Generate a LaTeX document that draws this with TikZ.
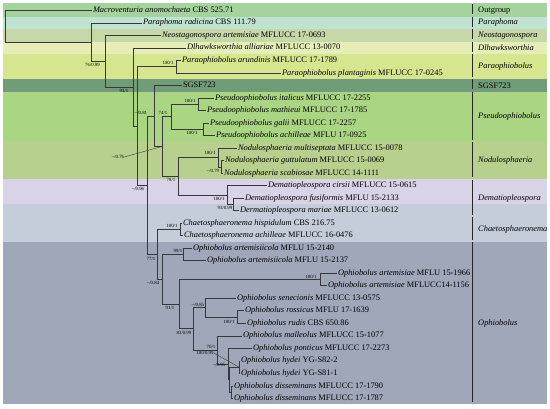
\documentclass[tikz,border=0pt]{standalone}
\usepackage{fontspec}
\setmainfont{Liberation Serif}
\usetikzlibrary{calc}
\definecolor{cOut}{RGB}{165,211,158}
\definecolor{cParaph}{RGB}{192,226,208}
\definecolor{cNeo}{RGB}{198,215,168}
\definecolor{cDlh}{RGB}{228,238,182}
\definecolor{cParaO}{RGB}{214,230,142}
\definecolor{cSGSF}{RGB}{112,156,122}
\definecolor{cPseudo}{RGB}{170,214,132}
\definecolor{cNodu}{RGB}{184,208,142}
\definecolor{cDemat}{RGB}{216,211,230}
\definecolor{cChaeto}{RGB}{197,205,219}
\definecolor{cOphio}{RGB}{159,167,185}
\definecolor{treec}{RGB}{55,55,60}
\newcommand\clade[4]{\path let \p1=(#3), \p2=(#4) in (#2pt,{0.5*(\y1+\y2)}) coordinate (#1);}
\newcommand\edges[3]{\draw[br] (#1) |- (#2); \draw[br] (#1) |- (#3);}
\tikzset{
  br/.style={draw=treec, line width=0.6pt},
  tx/.style={anchor=west, inner sep=0.8pt, font=\fontsize{8.4}{9}\selectfont, text height=5.6pt, text depth=1.4pt},
  sup/.style={inner sep=0pt, font=\fontsize{4.8}{5}\selectfont},
  gl/.style={anchor=west, inner sep=0pt, font=\fontsize{8.4}{9}\selectfont},
  bar/.style={draw=black!85, line width=0.9pt},
  ptr/.style={draw=treec, line width=0.4pt},
}
\begin{document}
\begin{tikzpicture}[x=1pt,y=-1pt]
\useasboundingbox (0,0) rectangle (550,408);
% background bands
\fill[cOut] (3,3) rectangle (547,16.56);
\fill[cParaph] (3,16.56) rectangle (547,29.08);
\fill[cNeo] (3,29.08) rectangle (547,41.6);
\fill[cDlh] (3,41.6) rectangle (547,54.12);
\fill[cParaO] (3,54.12) rectangle (547,79.16);
\fill[cSGSF] (3,79.16) rectangle (547,91.68);
\fill[cPseudo] (3,91.68) rectangle (547,141.76);
\fill[cNodu] (3,141.76) rectangle (547,179.32);
\fill[cDemat] (3,179.32) rectangle (547,204.36);
\fill[cChaeto] (3,204.36) rectangle (547,241.92);
\fill[cOphio] (3,241.92) rectangle (547,404);
% taxa
\node[tx] (t1) at (92,10.30) {\textit{Macroventuria anomochaeta} CBS 525.71};
\node[tx] (t2) at (142,22.82) {\textit{Paraphoma radicina} CBS 111.79};
\node[tx] (t3) at (161,35.34) {\textit{Neostagonospora artemisiae} MFLUCC 17-0693};
\node[tx] (t4) at (186,47.86) {\textit{Dlhawksworthia alliariae} MFLUCC 13-0070};
\node[tx] (t5) at (181,60.38) {\textit{Paraophiobolus arundinis} MFLUCC 17-1789};
\node[tx] (t6) at (281,72.90) {\textit{Paraophiobolus plantaginis} MFLUCC 17-0245};
\node[tx] (t7) at (182,85.42) {SGSF723};
\node[tx] (t8) at (214,97.94) {\textit{Pseudoophiobolus italicus} MFLUCC 17-2255};
\node[tx] (t9) at (206,110.46) {\textit{Pseudoophiobolus mathieui} MFLUCC 17-1785};
\node[tx] (t10) at (209,122.98) {\textit{Pseudoophiobolus galii} MFLUCC 17-2257};
\node[tx] (t11) at (215,135.50) {\textit{Pseudoophiobolus achilleae} MFLU 17-0925};
\node[tx] (t12) at (237,148.02) {\textit{Nodulosphaeria multiseptata} MFLUCC 15-0078};
\node[tx] (t13) at (224,160.54) {\textit{Nodulosphaeria guttulatum} MFLUCC 15-0069};
\node[tx] (t14) at (223,173.06) {\textit{Nodulosphaeria scabiosae} MFLUCC 14-1111};
\node[tx] (t15) at (267,185.58) {\textit{Dematiopleospora cirsii} MFLUCC 15-0615};
\node[tx] (t16) at (244,198.10) {\textit{Dematiopleospora fusiformis} MFLU 15-2133};
\node[tx] (t17) at (239,210.62) {\textit{Dermatiopleospora mariae} MFLUCC 13-0612};
\node[tx] (t18) at (182,223.14) {\textit{Chaetosphaeronema hispidulum} CBS 216.75};
\node[tx] (t19) at (183,235.66) {\textit{Chaetosphaeronema achilleae} MFLUCC 16-0476};
\node[tx] (t20) at (192,248.18) {\textit{Ophiobolus artemisiicola} MFLU 15-2140};
\node[tx] (t21) at (206,260.70) {\textit{Ophiobolus artemisiicola} MFLU 15-2137};
\node[tx] (t22) at (337,273.22) {\textit{Ophiobolus artemisiae} MFLU 15-1966};
\node[tx] (t23) at (327,285.74) {\textit{Ophiobolus artemisiae} MFLUCC14-1156};
\node[tx] (t24) at (236,298.26) {\textit{Ophiobolus senecionis} MFLUCC 13-0575};
\node[tx] (t25) at (244,310.78) {\textit{Ophiobolus rossicus} MFLU 17-1639};
\node[tx] (t26) at (246,323.30) {\textit{Ophiobolus rudis} CBS 650.86};
\node[tx] (t27) at (242,335.82) {\textit{Ophiobolus malleolus} MFLUCC 15-1077};
\node[tx] (t28) at (252,348.34) {\textit{Ophiobolus ponticus} MFLUCC 17-2273};
\node[tx] (t29) at (240,360.86) {\textit{Ophiobolus hydei} YG-S82-2};
\node[tx] (t30) at (240,373.38) {\textit{Ophiobolus hydei} YG-S81-1};
\node[tx] (t31) at (233,385.90) {\textit{Ophiobolus disseminans} MFLUCC 17-1790};
\node[tx] (t32) at (233,398.42) {\textit{Ophiobolus disseminans} MFLUCC 17-1787};
% internal nodes (tips upward)
\clade{PAR}{176}{t5}{t6}
\clade{P1}{198}{t8}{t9}
\clade{P2}{203}{t10}{t11}
\clade{P}{171}{P1}{P2}
\clade{N2}{221}{t13}{t14}
\clade{N}{218}{t12}{N2}
\clade{M2}{233}{t16}{t17}
\clade{M}{227}{t15}{M2}
\clade{H}{178}{N}{M}
\clade{G}{162}{P}{H}
\clade{E}{154}{t7}{G}
\clade{CH}{180}{t18}{t19}
\clade{Q}{183}{t20}{t21}
\clade{R}{320}{t22}{t23}
\clade{S2}{237}{t25}{t26}
\clade{S}{205}{t24}{S2}
\clade{W}{239}{t29}{t30}
\clade{X}{231}{t31}{t32}
\clade{V}{229.5}{W}{X}
\clade{U}{228}{t28}{V}
\clade{T}{217}{t27}{U}
\clade{L}{193}{S}{T}
\clade{K}{179}{R}{L}
\clade{J}{162}{Q}{K}
\clade{I}{157}{CH}{J}
\clade{F}{147}{E}{I}
\clade{D}{137}{PAR}{F}
\clade{C}{133}{t4}{D}
\clade{B}{105}{t3}{C}
\clade{A}{91}{t2}{B}
\clade{R0}{5}{t1}{A}
% branches
\edges{R0}{t1}{A}
\edges{A}{t2}{B}
\edges{B}{t3}{C}
\edges{C}{t4}{D}
\edges{D}{PAR}{F}
\edges{PAR}{t5}{t6}
\edges{F}{E}{I}
\edges{E}{t7}{G}
\edges{G}{P}{H}
\edges{P}{P1}{P2}
\edges{P1}{t8}{t9}
\edges{P2}{t10}{t11}
\edges{H}{N}{M}
\edges{N}{t12}{N2}
\edges{N2}{t13}{t14}
\edges{M}{t15}{M2}
\edges{M2}{t16}{t17}
\edges{I}{CH}{J}
\edges{CH}{t18}{t19}
\edges{J}{Q}{K}
\edges{Q}{t20}{t21}
\edges{K}{R}{L}
\edges{R}{t22}{t23}
\edges{L}{S}{T}
\edges{S}{t24}{S2}
\edges{S2}{t25}{t26}
\edges{T}{t27}{U}
\edges{U}{t28}{V}
\edges{V}{W}{X}
\edges{W}{t29}{t30}
\edges{X}{t31}{t32}
% support values
\node[sup] (sB) at (92.5,65) {76/0.99};
\node[sup] (sC) at (124,90.5) {93/1};
\node[sup] (sPAR) at (168,62.5) {100/1};
\node[sup] (sE) at (141,112.5) {--/0.81};
\node[sup] (sP) at (163,113) {74/1};
\node[sup] (sP1) at (190,101) {100/1};
\node[sup] (sP2) at (192,133) {100/1};
\node[sup] (sG) at (118,157) {--/0.76};
\node[sup] (sN) at (210,153) {100/1};
\node[sup] (sN2) at (213,171) {--/0.79};
\node[sup] (sH) at (171,180) {78/1};
\node[sup] (sM) at (219,199) {100/1};
\node[sup] (sM2) at (225,208) {93/0.99};
\node[sup] (sF) at (138,189) {--/0.96};
\node[sup] (sCH) at (172,226) {100/1};
\node[sup] (sI) at (151,259) {77/1};
\node[sup] (sQ) at (178,251) {99/1};
\node[sup] (sJ) at (153,283) {--/0.84};
\node[sup] (sR) at (311,276.5) {100/1};
\node[sup] (sK) at (170,308) {91/1};
\node[sup] (sS) at (198,304.5) {--/0.85};
\node[sup] (sS2) at (229,322) {100/1};
\node[sup] (sL) at (184,333) {83/0.99};
\node[sup] (sT) at (211,347) {70/1};
\node[sup] (sW) at (205,353) {100/0.99};
\node[sup] (sU) at (219,364.5) {--/0.95};
\draw[ptr] (sG.east) -- (G);
\draw[ptr] (sW.east) -- (W);
% genus column
\node[gl] (g1) at (478,10.30) {Outgroup};
\node[gl] (g2) at (478,22.82) {\itshape Paraphoma};
\node[gl] (g3) at (478,35.34) {\itshape Neostagonospora};
\node[gl] (g4) at (478,47.86) {\itshape Dlhawksworthia};
\node[gl] (g5) at (478,66.64) {\itshape Paraophiobolus};
\node[gl] (g6) at (478,85.42) {SGSF723};
\node[gl] (g7) at (478,116.72) {\itshape Pseudoophiobolus};
\node[gl] (g8) at (478,160.54) {\itshape Nodulosphaeria};
\node[gl] (g9) at (478,198.10) {\itshape Dematiopleospora};
\node[gl] (g10) at (478,229.40) {\itshape Chaetosphaeronema};
\node[gl] (g11) at (478,323.30) {\itshape Ophiobolus};
\draw[bar] (472,4.3) -- (472,14.3);
\draw[bar] (472,16.8) -- (472,26.8);
\draw[bar] (472,29.3) -- (472,39.3);
\draw[bar] (472,41.9) -- (472,51.9);
\draw[bar] (472,54.4) -- (472,76.9);
\draw[bar] (472,79.4) -- (472,89.4);
\draw[bar] (472,91.9) -- (472,139.5);
\draw[bar] (472,142) -- (472,177);
\draw[bar] (472,179.6) -- (472,214.6);
\draw[bar] (472,217.1) -- (472,239.7);
\draw[bar] (472,242.2) -- (472,402.4);
\end{tikzpicture}
\end{document}
